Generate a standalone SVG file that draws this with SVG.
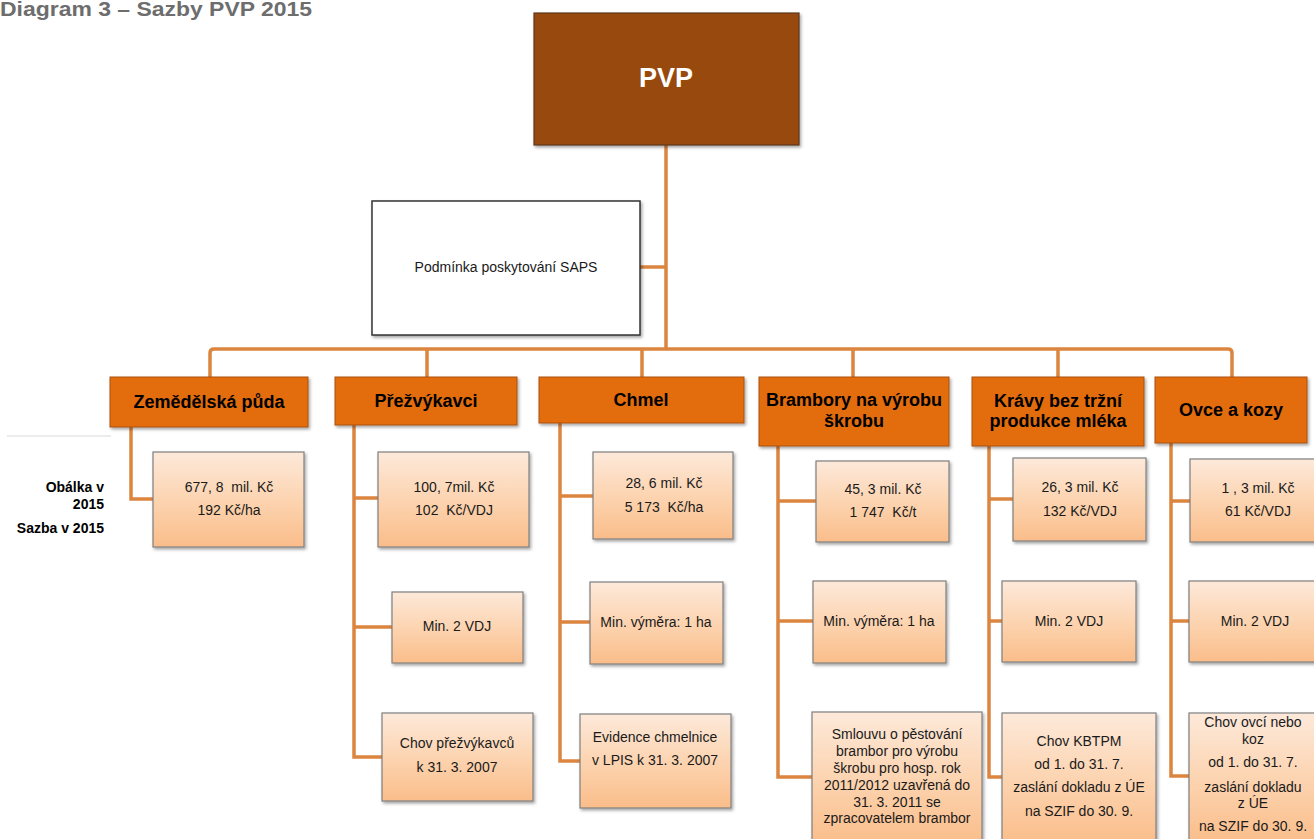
<svg xmlns="http://www.w3.org/2000/svg" width="1314" height="839" viewBox="0 0 1314 839">
<defs>
<linearGradient id="peach" x1="0" y1="0" x2="0" y2="1">
<stop offset="0" stop-color="#fde9da"/>
<stop offset="0.55" stop-color="#fcd2ad"/>
<stop offset="1" stop-color="#fabd8a"/>
</linearGradient>
<filter id="sh" x="-10%" y="-10%" width="125%" height="130%">
<feDropShadow dx="1.5" dy="2" stdDeviation="1.5" flood-color="#000" flood-opacity="0.35"/>
</filter>
</defs>
<style>
text{font-family:"Liberation Sans",Arial,sans-serif;fill:#1a1a1a;text-anchor:middle;white-space:pre}
.hd{font-weight:bold;font-size:18px;fill:#000}
.v{font-size:14px}
.lab{font-weight:bold;font-size:14px;text-anchor:end;fill:#000}
.ob{fill:#e36c0a;stroke:#a8520e;stroke-width:1;filter:url(#sh)}
.vb{fill:url(#peach);stroke:#7f7f7f;stroke-width:1.2;filter:url(#sh)}
.cn{fill:none;stroke:#dc853f;stroke-width:3.5}
</style>
<rect width="1314" height="839" fill="#fff"/>
<text x="0" y="16" style="text-anchor:start;font-weight:bold;font-size:20px;fill:#6d6d6d" textLength="312" lengthAdjust="spacingAndGlyphs">Diagram 3 – Sazby PVP 2015</text>

<g id="connectors">
<path class="cn" d="M666 145V349 M640 267H666"/>
<path class="cn" d="M210 377V353Q210 349 214 349H1228Q1232 349 1232 353V377 M427 349V377 M642 349V377 M853 349V377 M1058 349V377"/>
<path class="cn" d="M131 427V499H153"/>
<path class="cn" d="M354 425V757H382 M354 498H378 M354 627H392"/>
<path class="cn" d="M560 423V761H580 M560 496H593 M560 622H590"/>
<path class="cn" d="M778 446V777H812 M778 501H816 M778 621H813"/>
<path class="cn" d="M989 446V777H1002 M989 499H1013 M989 621H1002"/>
<path class="cn" d="M1171 443V776H1189 M1171 501H1190 M1171 621H1189"/>
</g>

<g id="pvp">
<rect x="534" y="13" width="265" height="132" fill="#984807" stroke="#5c3a1e" stroke-width="1.2" filter="url(#sh)"/>
<text x="666" y="87" style="font-weight:bold;font-size:27px;fill:#fff">PVP</text>
</g>

<g id="saps">
<rect x="372" y="201" width="268" height="134" fill="#fff" stroke="#333" stroke-width="1.5" filter="url(#sh)"/>
<text x="506" y="272" class="v">Podmínka poskytování SAPS</text>
</g>

<g id="labels">
<line x1="7" y1="436" x2="111" y2="436" stroke="#d9d9d9" stroke-width="1"/>
<text x="104" y="492" class="lab">Obálka v</text>
<text x="104" y="509" class="lab">2015</text>
<text x="104" y="533" class="lab">Sazba v 2015</text>
</g>

<g id="zemedelska">
<rect class="ob" x="110" y="377" width="198" height="50"/>
<text x="209" y="408" class="hd">Zemědělská půda</text>
</g>
<g id="zem-obalka">
<rect class="vb" x="153" y="452" width="151" height="95"/>
<text x="229" y="492" class="v">677, 8  mil. Kč</text>
<text x="229" y="515" class="v">192 Kč/ha</text>
</g>

<g id="prezvykavci">
<rect class="ob" x="335" y="377" width="182" height="48"/>
<text x="426" y="407" class="hd">Přežvýkavci</text>
</g>
<g id="prez-obalka">
<rect class="vb" x="378" y="452" width="151" height="95"/>
<text x="454" y="492" class="v">100, 7mil. Kč</text>
<text x="454" y="515" class="v">102  Kč/VDJ</text>
</g>
<g id="prez-min">
<rect class="vb" x="392" y="592" width="131" height="71"/>
<text x="457" y="631" class="v">Min. 2 VDJ</text>
</g>
<g id="prez-chov">
<rect class="vb" x="382" y="713" width="151" height="88"/>
<text x="457" y="748" class="v">Chov přežvýkavců</text>
<text x="457" y="772" class="v">k 31. 3. 2007</text>
</g>

<g id="chmel">
<rect class="ob" x="539" y="377" width="205" height="46"/>
<text x="641" y="406" class="hd">Chmel</text>
</g>
<g id="chmel-obalka">
<rect class="vb" x="593" y="452" width="140" height="87"/>
<text x="664" y="488" class="v">28, 6 mil. Kč</text>
<text x="664" y="512" class="v">5 173  Kč/ha</text>
</g>
<g id="chmel-min">
<rect class="vb" x="590" y="582" width="133" height="82"/>
<text x="656" y="627" class="v">Min. výměra: 1 ha</text>
</g>
<g id="chmel-evidence">
<rect class="vb" x="580" y="714" width="151" height="94"/>
<text x="655" y="742" class="v">Evidence chmelnice</text>
<text x="655" y="765" class="v">v LPIS k 31. 3. 2007</text>
</g>

<g id="brambory">
<rect class="ob" x="759" y="377" width="190" height="69"/>
<text x="854" y="406" class="hd">Brambory na výrobu</text>
<text x="854" y="427" class="hd">škrobu</text>
</g>
<g id="bramb-obalka">
<rect class="vb" x="816" y="461" width="133" height="81"/>
<text x="883" y="494" class="v">45, 3 mil. Kč</text>
<text x="883" y="517" class="v">1 747  Kč/t</text>
</g>
<g id="bramb-min">
<rect class="vb" x="813" y="581" width="133" height="82"/>
<text x="879" y="626" class="v">Min. výměra: 1 ha</text>
</g>
<g id="bramb-smlouva">
<rect class="vb" x="812" y="712" width="170" height="132"/>
<text x="897" y="739" class="v">Smlouvu o pěstování</text>
<text x="897" y="756" class="v">brambor pro výrobu</text>
<text x="897" y="773" class="v">škrobu pro hosp. rok</text>
<text x="897" y="790" class="v">2011/2012 uzavřená do</text>
<text x="897" y="807" class="v">31. 3. 2011 se</text>
<text x="897" y="823" class="v">zpracovatelem brambor</text>
</g>

<g id="kravy">
<rect class="ob" x="972" y="377" width="172" height="69"/>
<text x="1058" y="407" class="hd">Krávy bez tržní</text>
<text x="1058" y="427" class="hd">produkce mléka</text>
</g>
<g id="kravy-obalka">
<rect class="vb" x="1013" y="458" width="133" height="83"/>
<text x="1080" y="492" class="v">26, 3 mil. Kč</text>
<text x="1080" y="516" class="v">132 Kč/VDJ</text>
</g>
<g id="kravy-min">
<rect class="vb" x="1002" y="581" width="134" height="81"/>
<text x="1069" y="626" class="v">Min. 2 VDJ</text>
</g>
<g id="kravy-chov">
<rect class="vb" x="1002" y="713" width="154" height="131"/>
<text x="1079" y="746" class="v">Chov KBTPM</text>
<text x="1079" y="769" class="v">od 1. do 31. 7.</text>
<text x="1079" y="792" class="v">zaslání dokladu z ÚE</text>
<text x="1079" y="816" class="v">na SZIF do 30. 9.</text>
</g>

<g id="ovce">
<rect class="ob" x="1155" y="377" width="152" height="66"/>
<text x="1231" y="416" class="hd">Ovce a kozy</text>
</g>
<g id="ovce-obalka">
<rect class="vb" x="1190" y="459" width="136" height="83"/>
<text x="1258" y="493" class="v">1 , 3 mil. Kč</text>
<text x="1258" y="516" class="v">61 Kč/VDJ</text>
</g>
<g id="ovce-min">
<rect class="vb" x="1189" y="581" width="134" height="81"/>
<text x="1255" y="626" class="v">Min. 2 VDJ</text>
</g>
<g id="ovce-chov">
<rect class="vb" x="1189" y="713" width="130" height="131"/>
<text x="1253" y="727" class="v">Chov ovcí nebo</text>
<text x="1253" y="744" class="v">koz</text>
<text x="1253" y="767" class="v">od 1. do 31. 7.</text>
<text x="1253" y="792" class="v">zaslání dokladu</text>
<text x="1253" y="808" class="v">z ÚE</text>
<text x="1253" y="831" class="v">na SZIF do 30. 9.</text>
</g>
</svg>
